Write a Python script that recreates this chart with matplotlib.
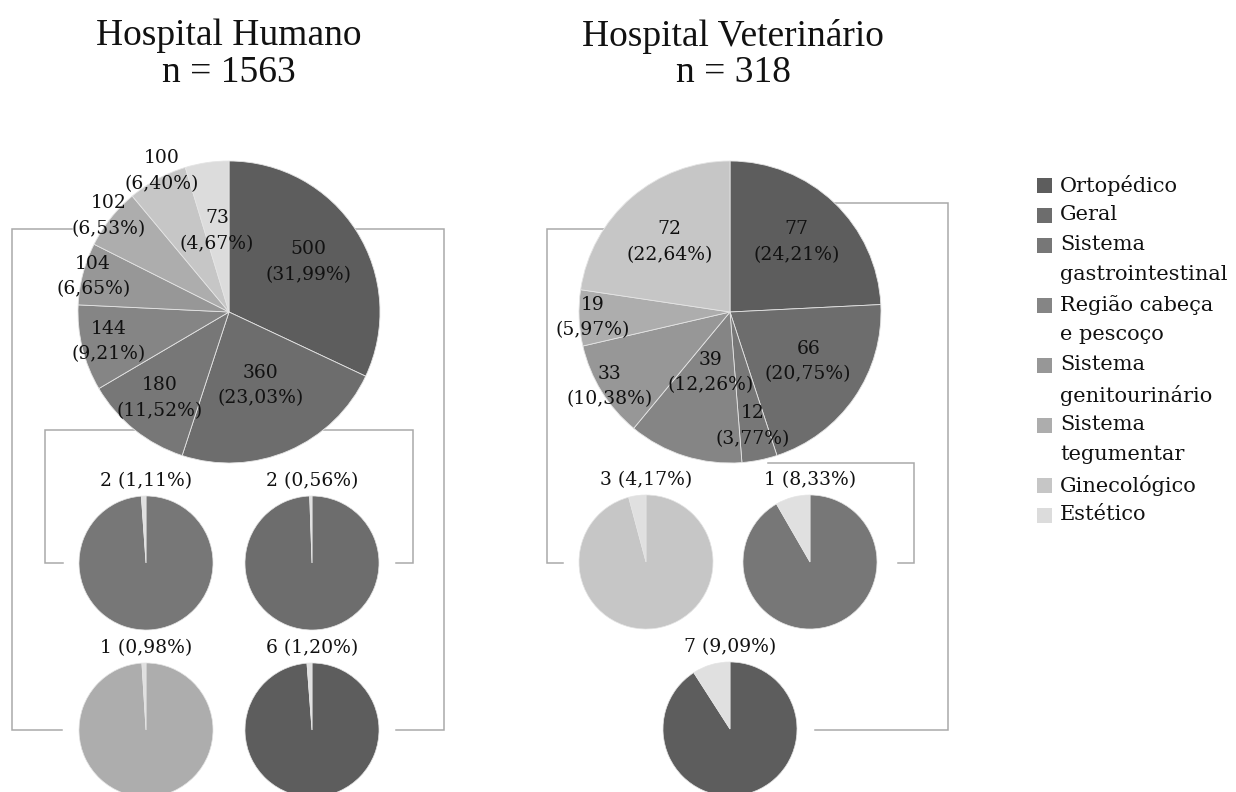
import numpy as np
import matplotlib
matplotlib.use("Agg")
import matplotlib.pyplot as plt
from matplotlib.patches import Rectangle

W, H = 1236, 792  # canvas in pixels, dpi 100

categories = ["Ortopédico", "Geral", "Sistema\ngastrointestinal", "Região cabeça\ne pescoço",
              "Sistema\ngenitourinário", "Sistema\ntegumentar", "Ginecológico", "Estético"]
gray_shades = ["#5d5d5d", "#6d6d6d", "#777777", "#858585", "#979797", "#adadad", "#c6c6c6", "#dcdcdc"]
detail_color = "#e0e0e0"

human_values = [500, 360, 180, 144, 104, 102, 100, 73]
vet_values = [77, 66, 12, 39, 33, 19, 72]  # vet has no "Estético"

# sub pies: count and index of the parent category
human_sub_n = [2, 2, 1, 6]
human_sub_cat = [2, 1, 5, 0]
vet_sub_n = [3, 1, 7]
vet_sub_cat = [6, 2, 0]

# layout (pixels from top-left)
human_center = (229, 312)
vet_center = (730, 312)
main_r = 151
sub_r = 67
human_sub_pos = [(146, 563), (312, 563), (146, 730), (312, 730)]
vet_sub_pos = [(646, 562), (810, 562), (730, 729)]
human_label_r = [0.62, 0.53, 0.73, 0.82, 0.93, 1.02, 1.06, 0.54]
human_label_shift = [0, 0, 0, 0, 0, 0, 9, 0]
vet_label_r = [0.64, 0.58, 0.77, 0.42, 0.94, 0.91, 0.61]
vet_label_shift = [0, 6, 0, 0, 0, 0, 0]

line_color = "#a9a9a9"
label_font = dict(family="DejaVu Serif", fontsize=13.5, color="#111111")
legend_font = dict(family="DejaVu Serif", fontsize=15, color="#111111")
title_font = dict(family="Liberation Serif", fontsize=27, color="#111111")


def pct(part, whole):
    return f"{100 * part / whole:.2f}".replace(".", ",") + "%"


def draw_main_pie(ax, values, pos, label_r, label_shift):
    cx, cy = pos[0], H - pos[1]
    wedges, _ = ax.pie(values, colors=gray_shades[:len(values)], center=(cx, cy), radius=main_r,
                       startangle=90, counterclock=False,
                       wedgeprops=dict(edgecolor="#e4e4e4", linewidth=0.6, zorder=2))
    total = sum(values)
    for w, v, lr, dx in zip(wedges, values, label_r, label_shift):
        ang = np.deg2rad((w.theta1 + w.theta2) / 2)
        x = cx + lr * main_r * np.cos(ang) + dx
        y = cy + lr * main_r * np.sin(ang)
        ax.text(x, y, f"{v}\n({pct(v, total)})", ha="center", va="center",
                linespacing=1.55, zorder=4, **label_font)


def draw_sub_pie(ax, n, parent_total, color, pos):
    cx, cy = pos[0], H - pos[1]
    ax.pie([parent_total - n, n], colors=[color, detail_color], center=(cx, cy), radius=sub_r,
           startangle=90, counterclock=False,
           wedgeprops=dict(edgecolor="#e4e4e4", linewidth=0.5, zorder=2))
    ax.text(cx, cy + sub_r + 15, f"{n} ({pct(n, parent_total)})", ha="center", va="center",
            zorder=4, **label_font)


def bracket(ax, pts):
    xs = [p[0] for p in pts]
    ys = [H - p[1] for p in pts]
    ax.plot(xs, ys, color=line_color, lw=1.1, zorder=0, solid_joinstyle="miter")


fig = plt.figure(figsize=(W / 100, H / 100), dpi=100)
ax = fig.add_axes([0, 0, 1, 1])

# connector lines (drawn behind the pies)
bracket(ax, [(62, 730), (12, 730), (12, 229), (72, 229)])
bracket(ax, [(229, 229), (444, 229), (444, 730), (396, 730)])
bracket(ax, [(63, 563), (45, 563), (45, 430), (413, 430), (413, 563), (396, 563)])
bracket(ax, [(730, 229), (547, 229), (547, 563), (563, 563)])
bracket(ax, [(730, 203), (948, 203), (948, 730), (815, 730)])
bracket(ax, [(768, 463), (914, 463), (914, 563), (898, 563)])

draw_main_pie(ax, human_values, human_center, human_label_r, human_label_shift)
draw_main_pie(ax, vet_values, vet_center, vet_label_r, vet_label_shift)

for n, c, p in zip(human_sub_n, human_sub_cat, human_sub_pos):
    draw_sub_pie(ax, n, human_values[c], gray_shades[c], p)
for n, c, p in zip(vet_sub_n, vet_sub_cat, vet_sub_pos):
    draw_sub_pie(ax, n, vet_values[c], gray_shades[c], p)

# titles
ax.text(human_center[0], H - 36, "Hospital Humano", ha="center", va="center", **title_font)
ax.text(human_center[0], H - 73, f"n = {sum(human_values)}", ha="center", va="center", **title_font)
ax.text(vet_center[0] + 3, H - 36, "Hospital Veterinário", ha="center", va="center", **title_font)
ax.text(vet_center[0] + 3, H - 73, f"n = {sum(vet_values)}", ha="center", va="center", **title_font)

# legend, drawn by hand so the square sits on the first line of each entry
row = 0
for cat, col in zip(categories, gray_shades):
    y0 = H - (185 + 30 * row)
    ax.add_patch(Rectangle((1037, y0 - 7.5), 15, 15, facecolor=col, edgecolor="none"))
    for line in cat.split("\n"):
        ax.text(1060, H - (185 + 30 * row), line, ha="left", va="center", **legend_font)
        row += 1

ax.set_xlim(0, W)
ax.set_ylim(0, H)
ax.set_aspect("auto")
ax.axis("off")

plt.savefig("out.png", dpi=100)
